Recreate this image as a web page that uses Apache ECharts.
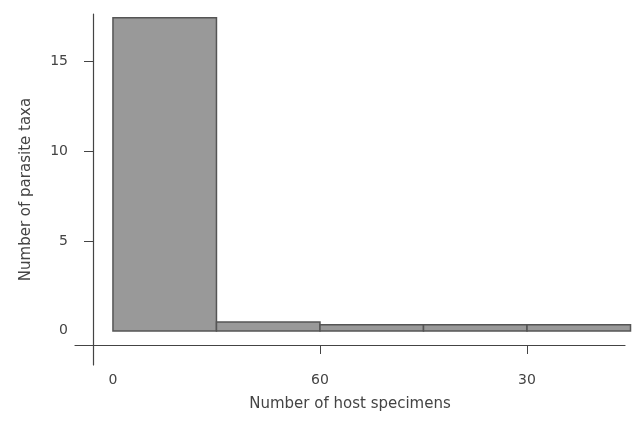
<!DOCTYPE html>
<html>
<head>
<meta charset="utf-8">
<script src="https://cdn.jsdelivr.net/npm/echarts@6/dist/echarts.min.js"></script>
<style>
  html, body { margin: 0; padding: 0; background: #fff; }
  #main { width: 635px; height: 429px; }
</style>
</head>
<body>
<div id="main"></div>
<script>
// histogram bins (host specimens) and counts (parasite taxa)
var binStart = [0, 30, 60, 90, 120];
var binEnd = [30, 60, 90, 120, 150];
var counts = [17.4, 0.5, 0.35, 0.35, 0.35];

var xLabelValues = [0, 60, 120];
var xTickLabels = ['0', '60', '30'];
var xTickValues = [60, 120];
var yLabelValues = [0, 5, 10, 15];
var yTickValues = [5, 10, 15];

var myChart = echarts.init(document.getElementById('main'));

var data = [];
for (var i = 0; i < counts.length; i++) {
    data.push([binStart[i], binEnd[i], counts[i]]);
}

var axisColor = '#444';
var textColor = '#444';
var font = 'DejaVu Sans';

var option = {
    animation: false,
    grid: [
        // x axis + bars
        { left: 75, right: 10, top: 14, bottom: 84 },
        // y axis (R style, separate)
        { left: 93, right: 10, top: 14, bottom: 64 }
    ],
    xAxis: [{
        gridIndex: 0,
        type: 'value',
        min: -11,
        max: 148.4,
        splitLine: { show: false },
        axisLine: { onZero: false, lineStyle: { color: axisColor, width: 1.2 } },
        axisTick: { customValues: xTickValues, length: 9, lineStyle: { color: axisColor } },
        axisLabel: {
            customValues: xLabelValues,
            margin: 28,
            color: textColor,
            fontFamily: font,
            fontSize: 14,
            formatter: function (v) {
                return xTickLabels[xLabelValues.indexOf(v)];
            }
        },
        name: 'Number of host specimens',
        nameLocation: 'middle',
        nameGap: 52,
        nameTextStyle: { color: textColor, fontFamily: font, fontSize: 15 }
    }, {
        gridIndex: 1,
        type: 'value',
        show: false
    }],
    yAxis: [{
        gridIndex: 0,
        type: 'value',
        min: -0.778,
        max: 17.61,
        show: false
    }, {
        gridIndex: 1,
        type: 'value',
        min: -1.9,
        max: 17.61,
        splitLine: { show: false },
        axisLine: { show: true, lineStyle: { color: axisColor, width: 1.2 } },
        axisTick: { show: true, customValues: yTickValues, length: 9, lineStyle: { color: axisColor } },
        axisLabel: {
            customValues: yLabelValues,
            margin: 25,
            color: textColor,
            fontFamily: font,
            fontSize: 14
        },
        name: 'Number of parasite taxa',
        nameLocation: 'middle',
        nameGap: 59,
        nameTextStyle: { color: textColor, fontFamily: font, fontSize: 15 }
    }],
    series: [{
        type: 'custom',
        xAxisIndex: 0,
        yAxisIndex: 0,
        clip: false,
        renderItem: function (params, api) {
            var p0 = api.coord([api.value(0), api.value(2)]);
            var p1 = api.coord([api.value(1), 0]);
            return {
                type: 'rect',
                shape: { x: p0[0], y: p0[1], width: p1[0] - p0[0], height: p1[1] - p0[1] },
                style: { fill: '#999999', stroke: '#555555', lineWidth: 1.5 }
            };
        },
        encode: { x: [0, 1], y: 2 },
        data: data
    }]
};

myChart.setOption(option);

window.onresize = function () {
    myChart.resize();
};
</script>
</body>
</html>
